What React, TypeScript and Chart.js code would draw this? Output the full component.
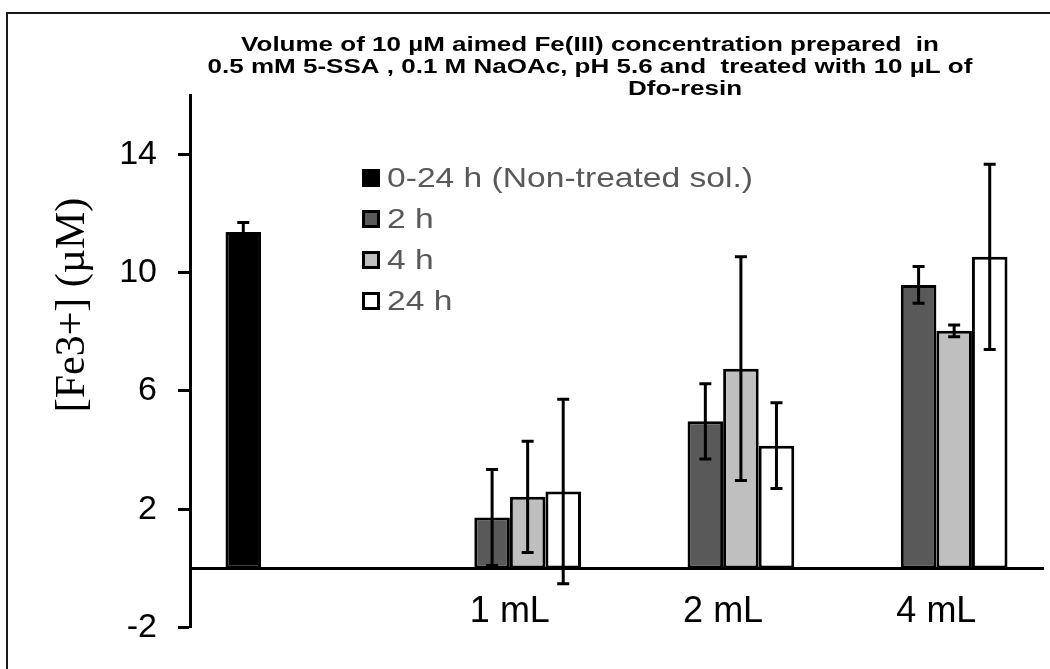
import { useEffect, useRef } from "react";
import { Chart, registerables } from "chart.js";

Chart.register(...registerables);

// Categories on the x axis (first group holds the untreated control)
const categories = ["", "1 mL", "2 mL", "4 mL"];
const seriesNames = ["0-24 h (Non-treated sol.)", "2 h", "4 h", "24 h"];

// Mean [Fe3+] (µM) and standard deviations per series
const nonTreated = [11.37, null, null, null];
const nonTreatedSd = [0.32, null, null, null];
const twoHours = [null, 1.72, 4.97, 9.58];
const twoHoursSd = [null, 1.62, 1.27, 0.62];
const fourHours = [null, 2.42, 6.75, 8.03];
const fourHoursSd = [null, 1.88, 3.78, 0.2];
const dayLong = [null, 2.6, 4.15, 10.53];
const dayLongSd = [null, 3.12, 1.45, 3.13];

const yTicks = [-2, 2, 6, 10, 14];
const titleLines = [
  "Volume of 10 µM aimed Fe(III) concentration prepared  in",
  "0.5 mM 5-SSA , 0.1 M NaOAc, pH 5.6 and  treated with 10 µL of",
  "Dfo-resin",
];
// horizontal shift of each title line from the common centre
const titleShift = [0, 0, 95];
const yTitle = "[Fe3+] (µM)";

const fills = ["#000000", "#595959", "#BFBFBF", "#FFFFFF"];
const SANS = "'Liberation Sans', Arial, sans-serif";
const SERIF = "'Liberation Serif', 'Times New Roman', serif";

function stretchedText(ctx: CanvasRenderingContext2D, text: string, x: number, y: number, sx: number) {
  ctx.save();
  ctx.translate(x, y);
  ctx.scale(sx, 1);
  ctx.fillText(text, 0, 0);
  ctx.restore();
}

// Outer frame of the chart object
const framePlugin = {
  id: "frame",
  beforeDraw(chart: any) {
    const { ctx } = chart;
    ctx.save();
    ctx.strokeStyle = "#1a1a1a";
    ctx.lineWidth = 2;
    ctx.strokeRect(7, 13, 1200, 800);
    ctx.restore();
  },
};

// Vertical error bars with caps
const errorBarPlugin = {
  id: "errorBars",
  afterDatasetsDraw(chart: any) {
    const { ctx } = chart;
    const y = chart.scales.y;
    ctx.save();
    ctx.strokeStyle = "#000";
    ctx.lineWidth = 3;
    chart.data.datasets.forEach((ds: any, i: number) => {
      const meta = chart.getDatasetMeta(i);
      meta.data.forEach((bar: any, j: number) => {
        const v = ds.data[j];
        const e = ds.errors[j];
        if (v == null || e == null) return;
        const top = y.getPixelForValue(v + e);
        const bot = y.getPixelForValue(v - e);
        const x = bar.x;
        ctx.beginPath();
        ctx.moveTo(x, top);
        ctx.lineTo(x, bot);
        ctx.moveTo(x - 6, top);
        ctx.lineTo(x + 6, top);
        ctx.moveTo(x - 6, bot);
        ctx.lineTo(x + 6, bot);
        ctx.stroke();
      });
    });
    ctx.restore();
  },
};

// Title, y-axis title and legend placed inside the frame
const annotationPlugin = {
  id: "annotations",
  afterDraw(chart: any) {
    const { ctx, chartArea } = chart;
    ctx.save();
    ctx.fillStyle = "#000";
    ctx.textBaseline = "middle";

    // title
    ctx.font = `bold 20px ${SANS}`;
    const cx = chartArea.left + 400;
    const sx = 1.3;
    titleLines.forEach((line, i) => {
      const w = ctx.measureText(line).width * sx;
      stretchedText(ctx, line, cx + titleShift[i] - w / 2, 45 + i * 22, sx);
    });

    // y-axis title
    ctx.save();
    ctx.translate(73, 305);
    ctx.rotate(-Math.PI / 2);
    ctx.font = `42px ${SERIF}`;
    ctx.textAlign = "center";
    ctx.fillText(yTitle, 0, 0);
    ctx.restore();

    // legend
    ctx.font = `28px ${SANS}`;
    chart.data.datasets.forEach((ds: any, i: number) => {
      const yc = chartArea.top + 83 + i * 41;
      const bx = chartArea.left + 172;
      ctx.fillStyle = ds.backgroundColor;
      ctx.fillRect(bx, yc - 9, 18, 18);
      if (i > 0) {
        ctx.strokeStyle = "#000";
        ctx.lineWidth = 3;
        ctx.strokeRect(bx + 1.5, yc - 7.5, 15, 15);
      }
      ctx.fillStyle = "#595959";
      stretchedText(ctx, ds.label, bx + 25, yc + 1, 1.2);
    });
    ctx.restore();
  },
};

export default function App() {
  const canvasRef = useRef<HTMLCanvasElement | null>(null);

  useEffect(() => {
    if (!canvasRef.current) return;
    const series = [
      { data: nonTreated, errors: nonTreatedSd },
      { data: twoHours, errors: twoHoursSd },
      { data: fourHours, errors: fourHoursSd },
      { data: dayLong, errors: dayLongSd },
    ];
    const chart = new Chart(canvasRef.current, {
      type: "bar",
      data: {
        labels: categories,
        datasets: series.map((s, i) => ({
          label: seriesNames[i],
          data: s.data,
          errors: s.errors,
          backgroundColor: fills[i],
          borderColor: "#000",
          borderWidth: 3,
          borderSkipped: false,
          categoryPercentage: 0.667,
          barPercentage: 1,
        })) as any,
      },
      options: {
        animation: false,
        responsive: false,
        maintainAspectRatio: false,
        layout: { padding: { left: 0, top: 95, right: 7, bottom: 36 } },
        plugins: {
          legend: { display: false },
          title: { display: false },
          tooltip: { enabled: false },
        },
        scales: {
          x: {
            type: "category",
            position: { y: 0 } as any,
            z: 1,
            grid: { display: true, drawOnChartArea: false, drawTicks: false },
            border: { display: true, color: "#000", width: 3 },
            ticks: { color: "#000", padding: 22, font: { family: SANS, size: 36 } },
          },
          y: {
            min: -2,
            max: 16,
            afterFit: (scale: any) => {
              scale.width = 190;
            },
            afterBuildTicks: (scale: any) => {
              scale.ticks = yTicks.map((v) => ({ value: v }));
            },
            grid: {
              drawOnChartArea: false,
              drawTicks: true,
              tickLength: 12,
              tickWidth: 3,
              tickColor: "#000",
            },
            border: { display: true, color: "#000", width: 3 },
            ticks: { color: "#000", padding: 21, font: { family: SANS, size: 34 } },
          },
        },
      },
      plugins: [framePlugin, errorBarPlugin, annotationPlugin],
    });
    return () => chart.destroy();
  }, []);

  return (
    <div style={{ position: "fixed", left: 0, top: 0, width: 1050, height: 669, background: "#fff" }}>
      <canvas ref={canvasRef} width={1050} height={669} style={{ width: 1050, height: 669 }} />
    </div>
  );
}
